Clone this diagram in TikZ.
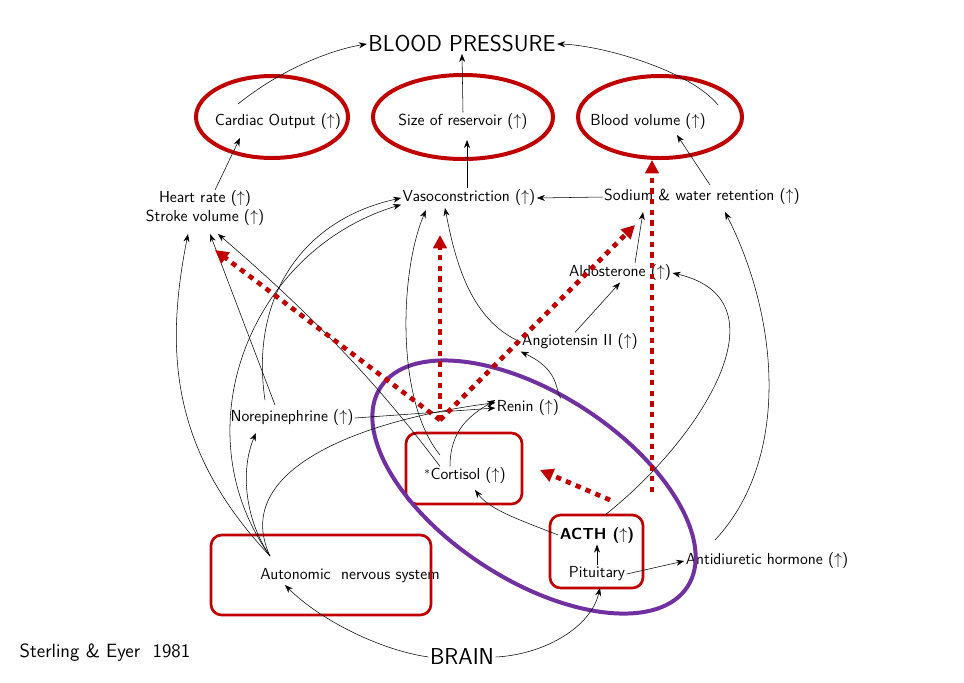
\documentclass[tikz,border=0pt]{standalone}
\usepackage{amsmath}
\usetikzlibrary{shapes.geometric,arrows.meta}
\definecolor{boxred}{RGB}{192,0,0}
\definecolor{ringpurple}{RGB}{112,48,160}
\tikzset{
  lbl/.style={font=\sffamily\large, inner sep=1pt},
  flow/.style={-{Stealth[length=6pt]}, thin},
  ring/.style={draw=boxred, line width=3pt},
  box/.style={draw=boxred, line width=2pt, rounded corners=8pt},
  hint/.style={-{Triangle[length=10pt,width=10pt]}, boxred, line width=3.5pt, dash pattern=on 4pt off 4pt},
}
\newcommand{\up}{($\uparrow$)}
\begin{document}
\begin{tikzpicture}[x=0.0264cm, y=-0.0264cm]
  \useasboundingbox (0,0) rectangle (964,682);
  \fill[white] (0,0) rectangle (964,682);

  % text nodes
  \node[lbl, font=\sffamily\LARGE] (bp) at (462,44) {BLOOD PRESSURE};
  \node[lbl] (co) at (278,122) {Cardiac Output \up};
  \node[lbl] (res) at (463,122) {Size of reservoir \up};
  \node[lbl] (bv) at (648,122) {Blood volume \up};
  \node[lbl, align=center] (hr) at (205,208) {Heart rate \up\\Stroke volume \up};
  \node[lbl] (vaso) at (469,198) {Vasoconstriction \up};
  \node[lbl] (na) at (702,197) {Sodium \& water retention \up};
  \node[lbl] (ald) at (620,273) {Aldosterone \up};
  \node[lbl] (ang) at (580,342) {Angiotensin II \up};
  \node[lbl] (ren) at (528,408) {Renin \up};
  \node[lbl] (ne) at (292,418) {Norepinephrine \up};
  \node[lbl] (cort) at (465,476) {$^*$Cortisol \up};
  \node[lbl, font=\sffamily\large\bfseries] (acth) at (597,535) {ACTH \up};
  \node[lbl] (pit) at (597,574) {Pituitary};
  \node[lbl] (ans) at (350,576) {Autonomic\ \ nervous system};
  \node[lbl] (adh) at (767,561) {Antidiuretic hormone \up};
  \node[lbl, font=\sffamily\LARGE] (brain) at (462,657) {BRAIN};
  \node[lbl, font=\sffamily\Large] (cite) at (105,653) {Sterling \& Eyer\ \ 1981};

  % highlight frames
  \draw[ring] (272,117) ellipse (76 and 41);
  \draw[ring] (463,117) ellipse (90 and 42);
  \draw[ring] (660,117) ellipse (82 and 41);
  \draw[box] (406,433) rectangle (522,504);
  \draw[box] (550,515) rectangle (643,588);
  \draw[box] (211,535) rectangle (431,615);
  \draw[ringpurple, line width=3pt, rotate around={-33:(534,487)}] (534,487) ellipse (183 and 93);

  % connectors
  \coordinate (hub) at (270,556);
  \draw[flow] (238,104) .. controls (280,70) and (330,50) .. (bp.west);
  \draw[flow] (res.north) -- (bp.south);
  \draw[flow] (718,105) .. controls (690,70) and (600,45) .. (bp.east);
  \draw[flow] (215,190) -- (240,138);
  \draw[flow] (467,188) -- (467,140);
  \draw[flow] (710,185) -- (677,135);
  \draw[flow] (na.west) -- (vaso.east);
  \draw[flow] (635,263) -- (643,212);
  \draw[flow] (ang.north) ++(-5,0) -- (ald.south);
  \draw[flow] (ang.west) .. controls (470,320) and (455,260) .. (445,208);
  \draw[flow] (ren.north east) .. controls (555,390) and (560,370) .. (ang.south west);
  \draw[flow] (ne.east) -- (ren.west);
  \draw[flow] (hub) .. controls (230,470) and (360,420) .. ([yshift=4pt]ren.west);
  \draw[flow] (440,455) .. controls (395,400) and (400,270) .. (426,210);
  \draw[flow] (cort.north) ++(-15,0) .. controls (450,430) and (470,415) .. ([yshift=6pt]ren.west);
  \draw[flow] (cort.north) ++(-25,0) .. controls (390,400) and (330,330) .. (218,234);
  \draw[flow] (275,405) -- (210,234);
  \draw[flow] (265,400) .. controls (250,300) and (300,220) .. (vaso.west);
  \draw[flow] (hub) .. controls (170,450) and (165,350) .. (188,234);
  \draw[flow] (hub) .. controls (245,520) and (240,470) .. (256,433);
  \draw[flow] (hub) .. controls (180,430) and (250,250) .. ([yshift=-5pt]vaso.west);
  \draw[flow] (brain.west) .. controls (380,650) and (320,620) .. (285,585);
  \draw[flow] (brain.east) .. controls (540,655) and (590,630) .. (600,588);
  \draw[flow] (pit.north) -- (acth.south);
  \draw[flow] (acth.west) .. controls (520,520) and (490,510) .. (475,490);
  \draw[flow] (pit.east) -- (adh.west);
  \draw[flow] (715,540) .. controls (790,460) and (780,320) .. (725,212);
  \draw[flow] (605,515) .. controls (700,440) and (790,300) .. (ald.east);

  % emphasis arrows
  \coordinate (src) at (440,420);
  \coordinate (hrtip) at (215,250);
  \coordinate (vasotip) at (440,235);
  \coordinate (natip) at (635,225);
  \coordinate (acthsrc) at (652,492);
  \coordinate (bvtip) at (652,160);
  \coordinate (cortsrc) at (610,500);
  \coordinate (corttip) at (540,470);
  \draw[hint] (src) -- (hrtip);
  \draw[hint] (src) -- (vasotip);
  \draw[hint] (src) -- (natip);
  \draw[hint] (acthsrc) -- (bvtip);
  \draw[hint] (cortsrc) -- (corttip);
\end{tikzpicture}
\end{document}
